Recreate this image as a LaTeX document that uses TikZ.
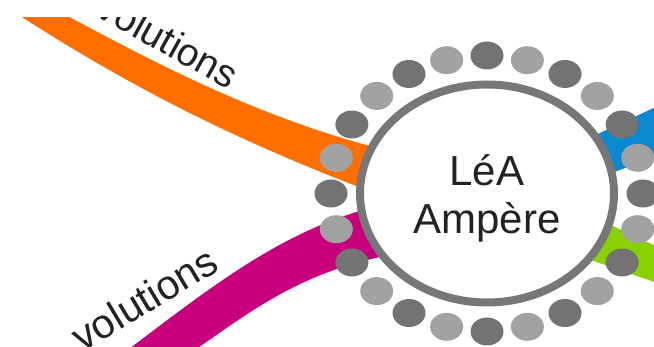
\documentclass[tikz,border=0pt]{standalone}
\usepackage{fontspec}
\setmainfont{Liberation Sans}
\usetikzlibrary{shapes.geometric}
\definecolor{cOrange}{HTML}{FF6F00}
\definecolor{cMagenta}{HTML}{C8007E}
\definecolor{cBlue}{HTML}{0A88D0}
\definecolor{cGreen}{HTML}{88D000}
\definecolor{cDark}{HTML}{737373}
\definecolor{cLight}{HTML}{A2A2A2}
\definecolor{cRing}{HTML}{777777}
\definecolor{cText}{HTML}{222222}
\tikzset{
  dotdark/.style={ellipse, fill=cDark, inner sep=0pt, minimum width=33pt, minimum height=28pt},
  dotlight/.style={ellipse, fill=cLight, inner sep=0pt, minimum width=33pt, minimum height=28pt},
  hub/.style={ellipse, draw=cRing, line width=8pt, fill=white, inner sep=0pt, minimum width=254pt, minimum height=218pt},
  hubtext/.style={text=cText, align=center, font=\fontsize{42}{48}\selectfont},
  branchtext/.style={text=cText, font=\fontsize{39}{46}\selectfont, inner sep=0pt}
}
\begin{document}
\begin{tikzpicture}[x=1pt,y=-1pt]
\useasboundingbox (0,0) rectangle (654,347);
\fill[white] (0,0) rectangle (654,347);
\clip (0,18) rectangle (654,347);
% branches
\fill[cOrange] (60,12) .. controls (150,60) and (255,117) .. (385,150) -- (385,197) .. controls (260,150) and (150,100) .. (14,12) -- cycle;
\fill[cMagenta] (125,352) .. controls (220,280) and (290,225) .. (390,203) -- (390,255) .. controls (300,272) and (250,312) .. (192,352) -- cycle;
\fill[cBlue] (585,140) -- (660,105) -- (660,155) -- (585,183) -- cycle;
\fill[cGreen] (585,213) -- (660,248) -- (660,284) -- (585,258) -- cycle;
% branch labels
\node[branchtext, rotate=-29, anchor=base west] (t1) at (94,15) {volutions};
\node[branchtext, font=\fontsize{41}{46}\selectfont, rotate=31, anchor=base west] (t2) at (82,353) {volutions};
% hub
\node[hub] (hub) at (487,193.5) {};
\node[hubtext] (hubt) at (487,198) {LéA\\Ampère};
% ring of dots
\foreach \k in {0,2,...,22}
  \node[dotdark] (d\k) at ({487+156*cos(15*\k)},{193.5-138*sin(15*\k)}) {};
\foreach \k in {1,3,...,23}
  \node[dotlight] (d\k) at ({487+156*cos(15*\k)},{193.5-138*sin(15*\k)}) {};
\end{tikzpicture}
\end{document}
